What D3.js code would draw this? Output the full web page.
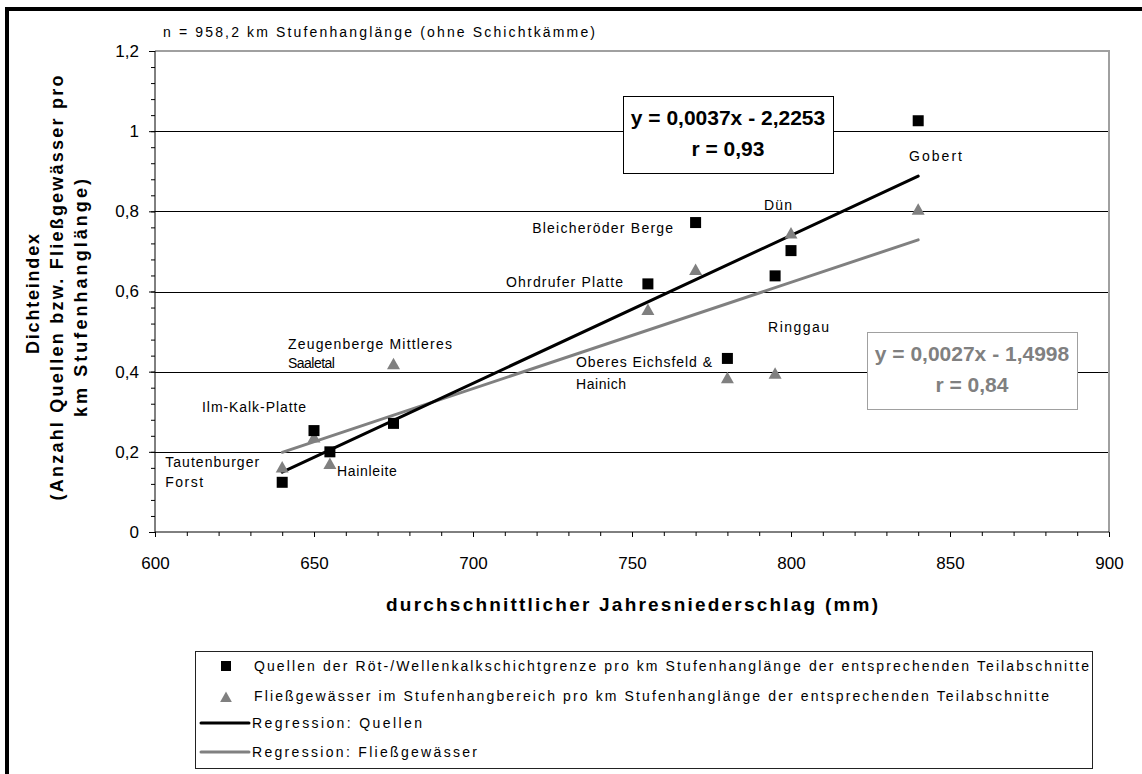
<!DOCTYPE html>
<html>
<head>
<meta charset="utf-8">
<script src="https://cdn.jsdelivr.net/npm/d3@7"></script>
<style>
  body { margin: 0; background: #fff; }
  svg { display: block; }
  text { font-family: "Liberation Sans", Arial, sans-serif; }
</style>
</head>
<body>
<svg id="chart" width="1142" height="774"></svg>
<script>
// Average annual precipitation (mm) of each escarpment section
const precipitation = [640, 650, 655, 675, 755, 770, 780, 795, 800, 840];
// Springs at the Röt/Wellenkalk boundary per km of escarpment length
const springDensity = [0.124, 0.253, 0.2, 0.271, 0.619, 0.772, 0.433, 0.639, 0.702, 1.026];
// Streams in the escarpment zone per km of escarpment length
const streamDensity = [0.162, 0.237, 0.171, 0.42, 0.555, 0.655, 0.385, 0.396, 0.746, 0.805];
// Section names
const sectionNames = ["Tautenburger Forst", "Ilm-Kalk-Platte", "Hainleite", "Zeugenberge Mittleres Saaletal",
  "Ohrdrufer Platte", "Bleicheröder Berge", "Oberes Eichsfeld & Hainich", "Ringgau", "Dün", "Gobert"];

const xTicks = [600, 650, 700, 750, 800, 850, 900];
const yTicks = [0, 0.2, 0.4, 0.6, 0.8, 1, 1.2];

const springEquation = ["y = 0,0037x - 2,2253", "r = 0,93"];
const streamEquation = ["y = 0,0027x - 1,4998", "r = 0,84"];

const legendLabels = [
  "Quellen der Röt-/Wellenkalkschichtgrenze pro km Stufenhanglänge der entsprechenden Teilabschnitte",
  "Fließgewässer im Stufenhangbereich pro km Stufenhanglänge der entsprechenden Teilabschnitte",
  "Regression: Quellen",
  "Regression: Fließgewässer"
];

const svg = d3.select("#chart");
const grey = "#808080";

// frame around the whole figure
svg.append("rect").attr("x", 7).attr("y", 9).attr("width", 1300).attr("height", 1000)
  .attr("fill", "none").attr("stroke", "#000").attr("stroke-width", 4);

const x = d3.scaleLinear().domain([600, 900]).range([155, 1109]);
const y = d3.scaleLinear().domain([0, 1.2]).range([532, 51]);

const deFormat = d3.formatLocale({ decimal: ",", thousands: ".", grouping: [3], currency: ["", " €"] }).format("~g");

// horizontal gridlines
svg.append("g").selectAll("line").data(yTicks.filter(v => v > 0 && v < 1.2)).join("line")
  .attr("x1", x(600)).attr("x2", x(900))
  .attr("y1", d => Math.round(y(d)) + 0.5).attr("y2", d => Math.round(y(d)) + 0.5)
  .attr("stroke", "#000").attr("stroke-width", 1);

// plot area border (top and right)
svg.append("path")
  .attr("d", `M${x(600)},${y(1.2)}H${x(900)}V${y(0)}`)
  .attr("fill", "none").attr("stroke", "#a0a0a0").attr("stroke-width", 2);

// y axis: minor and major ticks
const yMinor = svg.append("g").attr("transform", `translate(${x(600)},0)`)
  .call(d3.axisLeft(y).tickValues(d3.range(0, 1.2001, 0.04)).tickSize(4).tickFormat(""));
yMinor.select(".domain").remove();
const yAxis = svg.append("g").attr("transform", `translate(${x(600)},0)`)
  .call(d3.axisLeft(y).tickValues(yTicks).tickSize(6).tickPadding(10).tickFormat(deFormat));
yAxis.selectAll("text").attr("font-size", 17).attr("font-family", "Liberation Sans, Arial, sans-serif");
yAxis.select(".domain").attr("d", `M0,${y(1.2)}V${y(0)}`);

// x axis: minor and major ticks
const xMinor = svg.append("g").attr("transform", `translate(0,${y(0)})`)
  .call(d3.axisBottom(x).tickValues(d3.range(600, 901, 10)).tickSize(4).tickFormat(""));
xMinor.select(".domain").remove();
const xAxis = svg.append("g").attr("transform", `translate(0,${y(0)})`)
  .call(d3.axisBottom(x).tickValues(xTicks).tickSize(5).tickPadding(20).tickFormat(d3.format("d")));
xAxis.selectAll("text").attr("font-size", 17).attr("font-family", "Liberation Sans, Arial, sans-serif");
xAxis.select(".domain").attr("d", `M${x(600)},0H${x(900)}`);

// least-squares regression lines
function fit(xs, ys) {
  const mx = d3.mean(xs), my = d3.mean(ys);
  const sxy = d3.sum(xs, (v, i) => (v - mx) * (ys[i] - my));
  const sxx = d3.sum(xs, v => (v - mx) ** 2);
  const slope = sxy / sxx;
  return { slope, intercept: my - slope * mx };
}
const xExtent = d3.extent(precipitation);
const line = d3.line().x(d => x(d[0])).y(d => y(d[1]));
[[streamDensity, grey], [springDensity, "#000"]].forEach(([ys, color]) => {
  const f = fit(precipitation, ys);
  svg.append("path")
    .attr("d", line(xExtent.map(v => [v, f.slope * v + f.intercept])))
    .attr("fill", "none").attr("stroke", color).attr("stroke-width", 3).attr("stroke-linecap", "round");
});

// markers
const triangle = "M0,-6L6.5,5.5L-6.5,5.5Z";
svg.append("g").selectAll("path").data(precipitation).join("path")
  .attr("d", triangle)
  .attr("transform", (d, i) => `translate(${x(d)},${y(streamDensity[i])})`)
  .attr("fill", grey);
svg.append("g").selectAll("rect").data(precipitation).join("rect")
  .attr("x", d => x(d) - 5.5).attr("y", (d, i) => y(springDensity[i]) - 5.5)
  .attr("width", 11).attr("height", 11).attr("fill", "#000");

// section labels: anchor in data units, split into lines
const labelPlacement = [
  { name: 0, at: [603.2, 0.162], lines: ["Tautenburger", "Forst"], widths: [94, 38], gap: 20 },
  { name: 1, at: [614.8, 0.299], lines: ["Ilm-Kalk-Platte"], widths: [104] },
  { name: 2, at: [657.2, 0.14], lines: ["Hainleite"], widths: [60] },
  { name: 3, at: [641.8, 0.457], lines: ["Zeugenberge Mittleres", "Saaletal"], widths: [164, 47], gap: 19 },
  { name: 4, at: [710.4, 0.611], lines: ["Ohrdrufer Platte"], widths: [117] },
  { name: 5, at: [718.6, 0.746], lines: ["Bleicheröder Berge"], widths: [141] },
  { name: 6, at: [732.4, 0.412], lines: ["Oberes Eichsfeld &", "Hainich"], widths: [136, 50], gap: 22 },
  { name: 7, at: [792.8, 0.499], lines: ["Ringgau"], widths: [61] },
  { name: 8, at: [791.5, 0.803], lines: ["Dün"], widths: [28] },
  { name: 9, at: [837.1, 0.926], lines: ["Gobert"], widths: [53] }
];
const labels = svg.append("g").attr("font-size", 14).attr("fill", "#000");
labelPlacement.forEach(p => {
  p.lines.forEach((t, k) => {
    labels.append("text")
      .attr("x", x(p.at[0])).attr("y", y(p.at[1]) + k * (p.gap || 0))
      .attr("textLength", p.widths[k]).attr("lengthAdjust", "spacing")
      .text(t);
  });
});

// sample size note
svg.append("text").attr("x", 163).attr("y", 37).attr("font-size", 14)
  .attr("textLength", 432).attr("lengthAdjust", "spacing")
  .text("n = 958,2 km Stufenhanglänge (ohne Schichtkämme)");

// regression equation boxes
function equationBox(bx, by, lines, color, border) {
  svg.append("rect").attr("x", bx + 0.5).attr("y", by + 0.5).attr("width", 210).attr("height", 77)
    .attr("fill", "#fff").attr("stroke", border).attr("stroke-width", 1);
  lines.forEach((t, k) => {
    svg.append("text").attr("x", bx + 105).attr("y", by + 29 + k * 31)
      .attr("text-anchor", "middle").attr("font-size", 21).attr("font-weight", "bold")
      .attr("fill", color).text(t);
  });
}
equationBox(623, 96, springEquation, "#000", "#000");
equationBox(867, 332, streamEquation, grey, "#a0a0a0");

// axis titles
svg.append("text").attr("x", 632).attr("y", 611).attr("text-anchor", "middle")
  .attr("font-size", 19).attr("font-weight", "bold")
  .attr("textLength", 492).attr("lengthAdjust", "spacing")
  .text("durchschnittlicher Jahresniederschlag (mm)");

const yTitle = [["Dichteindex", 120, 39, 294], ["(Anzahl Quellen bzw. Fließgewässer pro", 425, 63, 288], ["km Stufenhanglänge)", 238, 87, 298]];
yTitle.forEach(([t, w, bx, cy]) => {
  svg.append("text").attr("transform", `translate(${bx},${cy}) rotate(-90)`)
    .attr("text-anchor", "middle").attr("font-size", 18).attr("font-weight", "bold")
    .attr("textLength", w).attr("lengthAdjust", "spacing").text(t);
});

// legend
const lg = svg.append("g");
lg.append("rect").attr("x", 195.5).attr("y", 651.5).attr("width", 897).attr("height", 117)
  .attr("fill", "#fff").attr("stroke", "#222").attr("stroke-width", 1);
lg.append("rect").attr("x", 221).attr("y", 661).attr("width", 10).attr("height", 10).attr("fill", "#000");
lg.append("path").attr("d", triangle).attr("transform", "translate(226,697) scale(0.9)").attr("fill", grey);
lg.append("line").attr("x1", 201).attr("x2", 249).attr("y1", 723).attr("y2", 723)
  .attr("stroke", "#000").attr("stroke-width", 3).attr("stroke-linecap", "round");
lg.append("line").attr("x1", 201).attr("x2", 249).attr("y1", 752).attr("y2", 752)
  .attr("stroke", grey).attr("stroke-width", 3).attr("stroke-linecap", "round");
const legendPos = [[254, 671, 835], [254, 701, 795], [252, 728, 170], [252, 757, 225]];
legendLabels.forEach((t, i) => {
  lg.append("text").attr("x", legendPos[i][0]).attr("y", legendPos[i][1]).attr("font-size", 14)
    .attr("textLength", legendPos[i][2]).attr("lengthAdjust", "spacing").text(t);
});
</script>
</body>
</html>
